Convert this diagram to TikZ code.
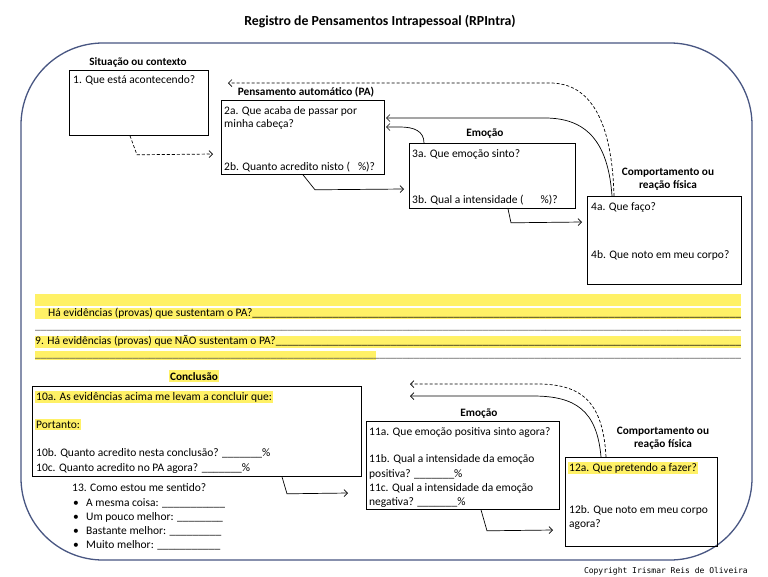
\documentclass[tikz,border=0pt]{standalone}
\usepackage{fontspec}
\setmainfont{Carlito}
\newfontfamily\copyfont{DejaVu Sans Mono}
\usetikzlibrary{arrows.meta,calc}
\definecolor{hl}{RGB}{255,241,102}
\definecolor{framecol}{RGB}{72,86,130}
\newcommand\fillus{\xleaders\hbox{\_}\hfill}
\begin{document}
\begin{tikzpicture}[x=1pt,y=-1pt,
  font=\fontsize{11.5}{13.5}\selectfont,
  box/.style={draw, line width=0.8pt, anchor=north west, inner sep=0},
  txt/.style={anchor=base west, inner sep=0},
  lbl/.style={anchor=base, inner sep=0, font=\fontsize{11.3}{13}\selectfont\bfseries},
  hltxt/.style={anchor=base west, fill=hl, inner xsep=1pt, inner ysep=1.5pt},
  arr/.style={line width=0.7pt, -{Straight Barb[length=3.5pt,width=7pt]}},
  dsh/.style={arr, dash pattern=on 3pt off 2pt},
  usline/.style={anchor=base west, inner sep=0}
]
\useasboundingbox (0,0) rectangle (768,576);
\fill[white] (0,0) rectangle (768,576);

% title and frame
\node[anchor=base, inner sep=0, font=\fontsize{13.8}{16}\selectfont\bfseries] (title) at (380,25) {Registro de Pensamentos Intrapessoal (RPIntra)};
\draw[framecol, line width=1.3pt, rounded corners=82pt] (21,43) rectangle (752,560);

% boxes
\node[box, minimum width=139pt, minimum height=65pt] (b1) at (69,70) {};
\node[box, minimum width=163pt, minimum height=74pt] (b2) at (221,100) {};
\node[box, minimum width=166pt, minimum height=65pt] (b3) at (409,143) {};
\node[box, minimum width=154pt, minimum height=88pt] (b4) at (587,196) {};
\node[box, minimum width=329pt, minimum height=90pt] (b10) at (32,386) {};
\node[box, minimum width=193pt, minimum height=88pt] (b11) at (366,421) {};
\node[box, minimum width=152pt, minimum height=89pt] (b12) at (565,457) {};

% labels
\node[lbl, font=\fontsize{11.2}{13}\selectfont\bfseries] (l1) at (138,65) {Situação ou contexto};
\node[lbl] (l2) at (306,95) {Pensamento automático (PA)};
\node[lbl] (l3) at (485,136) {Emoção};
\node[lbl] (l4a) at (668,175) {Comportamento ou};
\node[lbl] (l4b) at (668,188) {reação física};
\node[lbl, fill=hl, inner xsep=1pt, inner ysep=2pt] (l10) at (194,380) {Conclusão};
\node[lbl] (l11) at (479,416) {Emoção};
\node[lbl] (l12a) at (663,434) {Comportamento ou};
\node[lbl] (l12b) at (663,447) {reação física};

% texts top
\node[txt] (t1) at (73,83) {1. Que está acontecendo?};
\node[txt] (t2a) at (224,114) {2a. Que acaba de passar por};
\node[txt] (t2a2) at (224,127) {minha cabeça?};
\node[txt] (t2b) at (224,170) {2b. Quanto acredito nisto (\hspace{8pt}\%)?};
\node[txt] (t3a) at (412,157) {3a. Que emoção sinto?};
\node[txt] (t3b) at (412,203) {3b. Qual a intensidade (\hspace{17pt}\%)?};
\node[txt] (t4a) at (591,210) {4a. Que faço?};
\node[txt] (t4b) at (591,258) {4b. Que noto em meu corpo?};

% evidence bands
\fill[hl] (35,294) rectangle (741,306);
\fill[hl] (35,308) rectangle (741,319);
\fill[hl] (35,336) rectangle (741,348);
\fill[hl] (35,351) rectangle (376,360);
\node[txt] (t8) at (48,316) {\makebox[693pt][l]{Há evidências (provas) que sustentam o PA?\fillus}};
\node[usline, text=black!65] (u8) at (35,329) {\makebox[706pt][l]{\fillus}};
\node[txt] (t9) at (35,344) {\makebox[706pt][l]{9. Há evidências (provas) que NÃO sustentam o PA?\fillus}};
\node[usline, text=black!70] (u9) at (35,357) {\makebox[706pt][l]{\fillus}};

% conclusion box texts
\node[hltxt] (t10a) at (35,400) {10a. As evidências acima me levam a concluir que:};
\node[hltxt] (t10p) at (35,428) {Portanto:};
\node[txt] (t10b) at (36,456) {10b. Quanto acredito nesta conclusão? \_\_\_\_\_\_\_\%};
\node[txt] (t10c) at (36,471) {10c. Quanto acredito no PA agora? \_\_\_\_\_\_\_\%};

% item 13
\node[txt] (t13) at (72,491) {13. Como estou me sentido?};
\node[txt] (bu1) at (73,506) {\textbullet};
\node[txt] (bu2) at (73,520) {\textbullet};
\node[txt] (bu3) at (73,534) {\textbullet};
\node[txt] (bu4) at (73,548) {\textbullet};
\node[txt] (t13a) at (86,506) {A mesma coisa: \_\_\_\_\_\_\_\_\_\_\_};
\node[txt] (t13b) at (86,520) {Um pouco melhor: \_\_\_\_\_\_\_\_};
\node[txt] (t13c) at (86,534) {Bastante melhor: \_\_\_\_\_\_\_\_\_};
\node[txt] (t13d) at (86,548) {Muito melhor: \_\_\_\_\_\_\_\_\_\_\_};

% box 11 texts
\node[txt] (t11a) at (369,435) {11a. Que emoção positiva sinto agora?};
\node[txt] (t11b) at (369,462) {11b. Qual a intensidade da emoção};
\node[txt] (t11b2) at (369,477) {positiva? \_\_\_\_\_\_\_\%};
\node[txt] (t11c) at (369,491) {11c. Qual a intensidade da emoção};
\node[txt] (t11c2) at (369,505) {negativa? \_\_\_\_\_\_\_\%};

% box 12 texts
\node[hltxt] (t12a) at (568,471) {12a. Que pretendo a fazer?};
\node[txt] (t12b) at (569,513) {12b. Que noto em meu corpo};
\node[txt] (t12b2) at (569,527) {agora?};

% copyright
\node[anchor=base east, inner sep=0, font=\copyfont\fontsize{8}{10}\selectfont] (copy) at (748,573) {Copyright Irismar Reis de Oliveira};

% arrow end coordinates
\coordinate (e1) at (213,154);
\coordinate (e2) at (404,189);
\coordinate (e3) at (582,222);
\coordinate (e4) at (386,127);
\coordinate (e5) at (386,118);
\coordinate (e6) at (228,83);
\coordinate (e7) at (348,493);
\coordinate (e8) at (553,530);
\coordinate (e9) at (410,396);
\coordinate (e10) at (410,384);

% connectors top
\draw[dsh] ([xshift=61pt]b1.south west) -- ++(7,19) -- (e1);
\draw[arr] ([xshift=82pt]b2.south west) -- ++(12,15) -- (e2);
\draw[arr] ([xshift=99pt]b3.south west) -- ++(3,14) -- (e3);
\draw[arr] ([xshift=15pt]b3.north west) .. controls (424,131) and (414,127) .. (400,127) -- (e4);
\draw[arr] ([xshift=25pt]b4.north west) .. controls (608,140) and (585,118) .. (545,118) -- (e5);
\draw[dsh] ([xshift=27pt]b4.north west) .. controls (612,120) and (590,83) .. (550,83) -- (e6);

% connectors bottom
\draw[arr] ([xshift=250pt]b10.south west) -- ++(5,17) -- (e7);
\draw[arr] ([xshift=115pt]b11.south west) -- ++(6,21) -- (e8);
\draw[arr] ([xshift=36pt]b12.north west) .. controls (597,410) and (575,396) .. (533,396) -- (e9);
\draw[dsh] ([xshift=41pt]b12.north west) .. controls (603,400) and (580,384) .. (537,384) -- (e10);
\end{tikzpicture}
\end{document}
